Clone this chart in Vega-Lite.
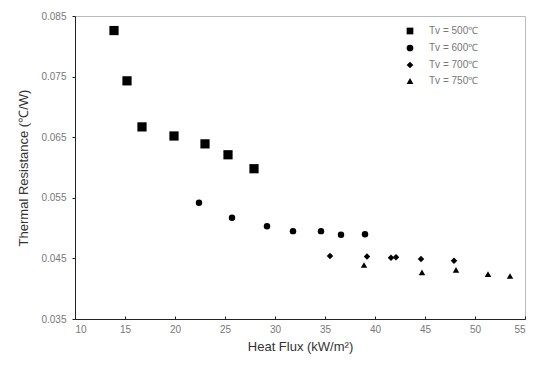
{
  "$schema": "https://vega.github.io/schema/vega-lite/v6.json",
  "autosize": "none",
  "width": 450,
  "height": 303,
  "padding": {"left": 75, "top": 16, "right": 10, "bottom": 47},
  "background": "white",
  "config": {
    "view": {"stroke": "#bbbbbb", "strokeWidth": 1},
    "font": "Liberation Sans",
    "axis": {"grid": false, "domainColor": "#222", "tickColor": "#222", "labelColor": "#777", "labelFontSize": 10, "titleColor": "#333", "titleFontSize": 13, "titleFontWeight": "normal", "labelFont": "Liberation Sans", "titleFont": "Liberation Sans"}
  },
  "data": {"values": [
    {"flux": 13.9, "r": 0.0826, "s": "Tv = 500℃"},
    {"flux": 15.2, "r": 0.0743, "s": "Tv = 500℃"},
    {"flux": 16.7, "r": 0.0667, "s": "Tv = 500℃"},
    {"flux": 19.9, "r": 0.0652, "s": "Tv = 500℃"},
    {"flux": 23.0, "r": 0.0639, "s": "Tv = 500℃"},
    {"flux": 25.3, "r": 0.0621, "s": "Tv = 500℃"},
    {"flux": 27.9, "r": 0.0598, "s": "Tv = 500℃"},
    {"flux": 22.4, "r": 0.0542, "s": "Tv = 600℃"},
    {"flux": 25.7, "r": 0.0517, "s": "Tv = 600℃"},
    {"flux": 29.2, "r": 0.0503, "s": "Tv = 600℃"},
    {"flux": 31.8, "r": 0.0495, "s": "Tv = 600℃"},
    {"flux": 34.6, "r": 0.0495, "s": "Tv = 600℃"},
    {"flux": 36.6, "r": 0.0489, "s": "Tv = 600℃"},
    {"flux": 39.0, "r": 0.0490, "s": "Tv = 600℃"},
    {"flux": 35.5, "r": 0.0454, "s": "Tv = 700℃"},
    {"flux": 39.2, "r": 0.0453, "s": "Tv = 700℃"},
    {"flux": 41.6, "r": 0.0451, "s": "Tv = 700℃"},
    {"flux": 42.1, "r": 0.0452, "s": "Tv = 700℃"},
    {"flux": 44.6, "r": 0.0449, "s": "Tv = 700℃"},
    {"flux": 47.9, "r": 0.0446, "s": "Tv = 700℃"},
    {"flux": 38.9, "r": 0.0439, "s": "Tv = 750℃"},
    {"flux": 44.7, "r": 0.0427, "s": "Tv = 750℃"},
    {"flux": 48.1, "r": 0.0431, "s": "Tv = 750℃"},
    {"flux": 51.3, "r": 0.0424, "s": "Tv = 750℃"},
    {"flux": 53.5, "r": 0.0421, "s": "Tv = 750℃"}
  ]},
  "encoding": {
    "x": {"field": "flux", "type": "quantitative", "title": "Heat Flux (kW/m²)",
      "scale": {"domain": [10, 55], "nice": false, "zero": false},
      "axis": {"values": [10, 15, 20, 25, 30, 35, 40, 45, 50, 55], "tickSize": -3, "labelPadding": 8, "titlePadding": 6}},
    "y": {"field": "r", "type": "quantitative", "title": "Thermal Resistance (℃/W)",
      "scale": {"domain": [0.035, 0.085], "nice": false, "zero": false},
      "axis": {"values": [0.035, 0.045, 0.055, 0.065, 0.075, 0.085], "format": ".3f", "tickSize": 3, "labelPadding": 6, "titlePadding": 10}},
    "shape": {"field": "s", "type": "nominal",
      "scale": {"domain": ["Tv = 500℃", "Tv = 600℃", "Tv = 700℃", "Tv = 750℃"], "range": ["square", "circle", "diamond", "triangle-up"]},
      "legend": {"title": null, "orient": "none", "legendX": 330, "legendY": 10, "labelFontSize": 10, "labelColor": "#777", "rowPadding": 3, "symbolSize": 45, "symbolFillColor": "black", "symbolStrokeColor": "black", "symbolOpacity": 1, "labelOffset": 14}}
  },
  "layer": [
    {"transform": [{"filter": "datum.s === 'Tv = 500℃'"}],
     "mark": {"type": "point", "filled": true, "color": "black", "opacity": 1, "size": 85}},
    {"transform": [{"filter": "datum.s !== 'Tv = 500℃'"}],
     "mark": {"type": "point", "filled": true, "color": "black", "opacity": 1, "size": 42}}
  ]
}
